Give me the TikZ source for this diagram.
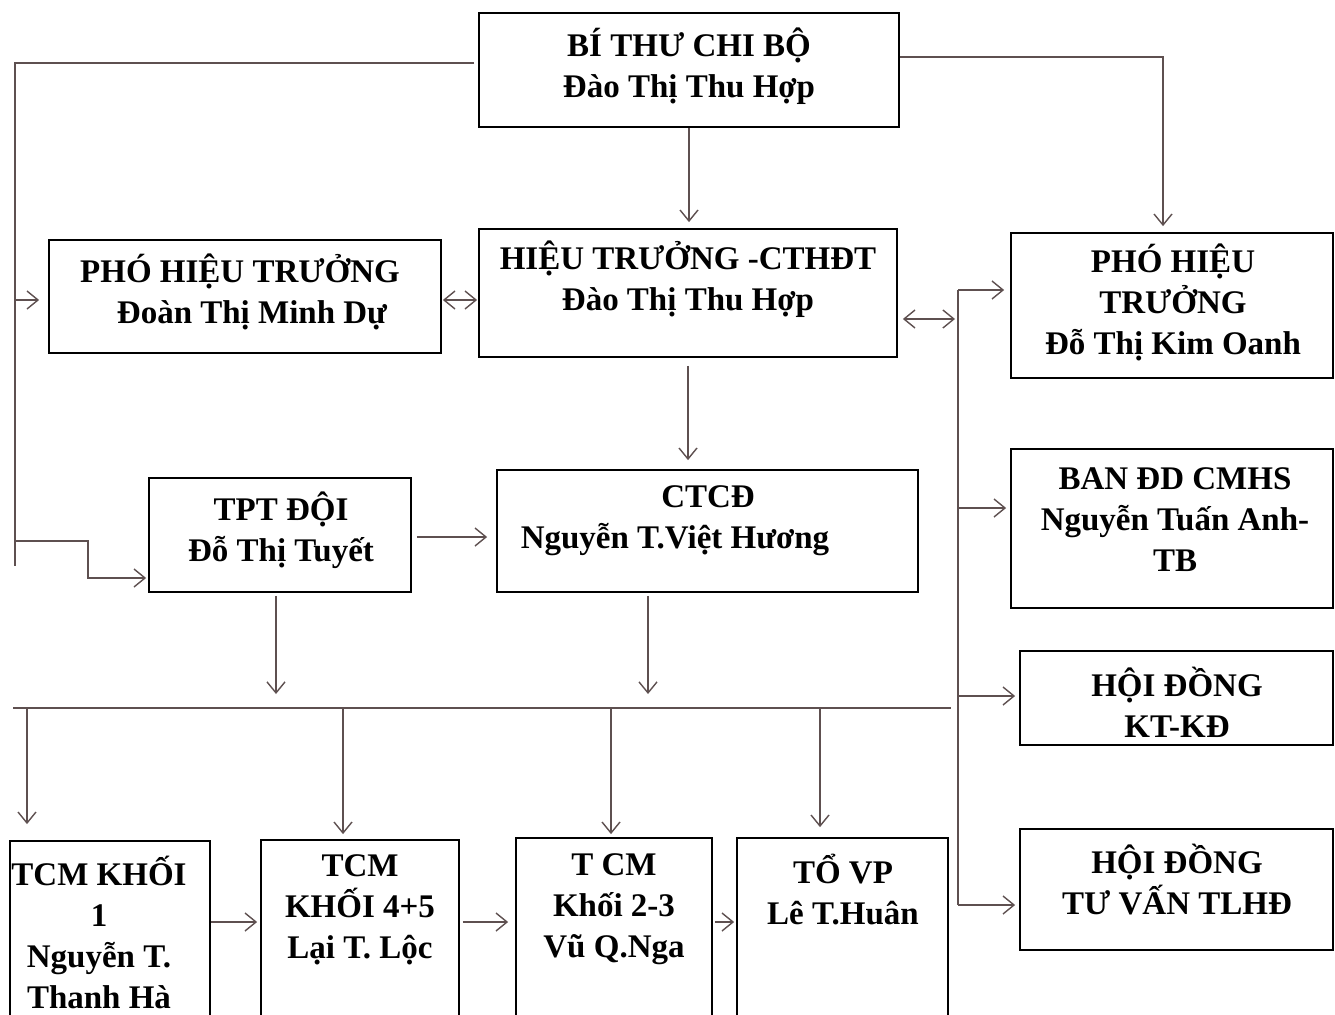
\documentclass[tikz,border=0pt]{standalone}
\usepackage{fontspec}
\setmainfont{Liberation Serif}
\usetikzlibrary{arrows.meta,fit}
\definecolor{linec}{HTML}{5E5050}
\begin{document}
\begin{tikzpicture}[x=1pt,y=-1pt,
  boxst/.style={draw=black, line width=1.8pt, inner sep=0pt},
  txt/.style={font=\fontsize{33}{41}\selectfont\bfseries, align=center, inner sep=0pt, text=black},
  conn/.style={draw=linec, line width=1.4pt},
  tipst/.style={},
  arr/.style={conn, -{Straight Barb[length=11pt,width=18pt]}},
  darr/.style={conn, {Straight Barb[length=11pt,width=18pt]}-{Straight Barb[length=11pt,width=18pt]}}]
\useasboundingbox (0,0) rectangle (1335,1014);
\fill[white] (0,0) rectangle (1335,1014);
\begin{scope}
\clip (0,0) rectangle (1335,1014);
% boxes
\node[boxst, fit={(479,13)(899,127)}] (b1) {};
\node[boxst, fit={(49,240)(441,353)}] (b2) {};
\node[boxst, fit={(479,229)(897,357)}] (b3) {};
\node[boxst, fit={(1011,233)(1333,378)}] (b4) {};
\node[boxst, fit={(149,478)(411,592)}] (b5) {};
\node[boxst, fit={(497,470)(918,592)}] (b6) {};
\node[boxst, fit={(1011,449)(1333,608)}] (b7) {};
\node[boxst, fit={(1020,651)(1333,745)}] (b8) {};
\node[boxst, fit={(1020,829)(1333,950)}] (b9) {};
\node[boxst, fit={(10,841)(210,1040)}] (b10) {};
\node[boxst, fit={(261,840)(459,1040)}] (b11) {};
\node[boxst, fit={(516,838)(712,1040)}] (b12) {};
\node[boxst, fit={(737,838)(948,1040)}] (b13) {};
% texts
\node[txt] (t1) at (689,66) {BÍ THƯ CHI BỘ\\Đào Thị Thu Hợp};
\node[txt] (t2) at (240,292) {PHÓ HIỆU TRƯỞNG\\\hspace*{24pt}Đoàn Thị Minh Dự};
\node[txt] (t3) at (688,279) {HIỆU TRƯỞNG -CTHĐT\\Đào Thị Thu Hợp};
\node[txt] (t4) at (1173,302) {PHÓ HIỆU\\TRƯỞNG\\Đỗ Thị Kim Oanh};
\node[txt] (t5) at (281,530) {TPT ĐỘI\\Đỗ Thị Tuyết};
\node[txt] (t6) at (708,521) {CTCĐ\\Nguyễn T.Việt Hương\hspace*{66pt}};
\node[txt] (t7) at (1175,520) {BAN ĐD CMHS\\Nguyễn Tuấn Anh-\\TB};
\node[txt] (t8) at (1177,702) {HỘI ĐỒNG\\KT-KĐ};
\node[txt] (t9) at (1177,880) {HỘI ĐỒNG\\TƯ VẤN TLHĐ};
\node[txt] (t10) at (99,932) {TCM KHỐI\\1\\Nguyễn T.\\Thanh Hà};
\node[txt] (t11) at (360,910) {TCM\\KHỐI 4+5\\Lại T. Lộc};
\node[txt] (t12) at (614,909) {T CM\\Khối 2-3\\Vũ Q.Nga};
\node[txt] (t13) at (843,890) {TỔ VP\\Lê T.Huân};
% coordinates
\coordinate (tl) at (15,63);
\coordinate (lbot) at (15,566);
\coordinate (l2) at (15,300);
\coordinate (l5) at (15,541);
\coordinate (l5a) at (88,541);
\coordinate (l5b) at (88,578);
\coordinate (tr) at (1163,57);
\coordinate (y300) at (0,300);
\coordinate (r3) at (955,319);
\coordinate (rtop) at (958,290);
\coordinate (r7) at (958,508);
\coordinate (r8) at (958,696);
\coordinate (rbot) at (958,905);
\coordinate (y537) at (0,537);
\coordinate (busl) at (13,708);
\coordinate (busr) at (951,708);
\coordinate (d5) at (276,708);
\coordinate (d6) at (648,708);
\coordinate (k1) at (27,708);
\coordinate (k2) at (343,708);
\coordinate (k3) at (611,708);
\coordinate (k4) at (820,708);
\coordinate (h) at (0,922);
% connectors
\draw[conn, shorten <=4pt] (b1.west |- tl) -- (tl) -- (lbot);
\draw[arr, shorten >=9pt] (l2) -- (l2 -| b2.west);
\draw[arr, shorten >=2pt] (l5) -- (l5a) -- (l5b) -- (l5b -| b5.west);
\draw[arr, shorten >=6pt] (tr -| b1.east) -- (tr) -- (tr |- b4.north);
\draw[arr, shorten >=6pt] (b1.south) -- (b1.south |- b3.north);
\draw[darr, shorten <=1pt, shorten >=1pt] (b2.east |- y300) -- (b3.west |- y300);
\draw[darr, shorten <=5pt] (r3 -| b3.east) -- (r3);
\draw[conn] (rtop) -- (rbot);
\draw[arr, shorten >=6pt] (rtop) -- (rtop -| b4.west);
\draw[arr, shorten >=4pt] (r7) -- (r7 -| b7.west);
\draw[arr, shorten >=4pt] (r8) -- (r8 -| b8.west);
\draw[arr, shorten >=4pt] (rbot) -- (rbot -| b9.west);
\draw[arr, shorten <=8pt, shorten >=9pt] (b3.south) -- (b3.south |- b6.north);
\draw[arr, shorten <=5pt, shorten >=9pt] (b5.east |- y537) -- (b6.west |- y537);
\draw[arr, shorten <=3pt, shorten >=14pt] (d5 |- b5.south) -- (d5);
\draw[arr, shorten <=3pt, shorten >=14pt] (d6 |- b6.south) -- (d6);
\draw[conn] (busl) -- (busr);
\draw[arr, shorten >=16pt] (k1) -- (k1 |- b10.north);
\draw[arr, shorten >=5pt] (k2) -- (k2 |- b11.north);
\draw[arr, shorten >=3pt] (k3) -- (k3 |- b12.north);
\draw[arr, shorten >=10pt] (k4) -- (k4 |- b13.north);
\draw[arr, shorten >=3pt] (b10.east |- h) -- (b11.west |- h);
\draw[arr, shorten <=3pt, shorten >=7pt] (b11.east |- h) -- (b12.west |- h);
\draw[arr, shorten <=2pt, shorten >=2pt] (b12.east |- h) -- (b13.west |- h);
\end{scope}
\end{tikzpicture}
\end{document}
